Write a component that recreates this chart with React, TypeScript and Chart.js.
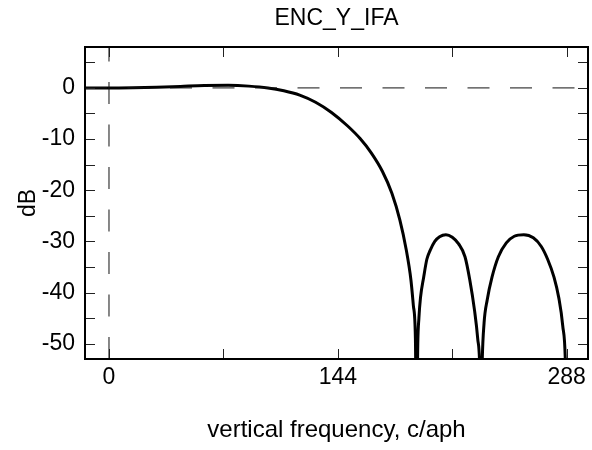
import React, { useEffect, useRef } from "react";
import { Chart, registerables } from "chart.js";

Chart.register(...registerables);

const FONT = '"Liberation Sans", Arial, Helvetica, sans-serif';

const chartTitle = "ENC_Y_IFA";
const xAxisTitle = "vertical frequency, c/aph";
const yAxisTitle = "dB";

const freq = [
  -15.1, 0, 15, 30, 45, 60, 75, 88, 100, 110, 120, 130, 140, 150, 158, 165, 172,
  178, 183, 187, 190, 191.5, 192.8, 193.5, 194.3, 195, 196, 198, 200, 202, 205,
  208, 212, 216, 220, 224, 227, 230, 232, 233.3, 234, 234.8, 236, 238, 241, 245,
  250, 255, 261, 267, 272, 276, 280, 283, 285.5, 287.2, 288,
];
const gainDb = [
  0.0, 0.0, 0.05, 0.15, 0.3, 0.45, 0.5, 0.35, 0.0, -0.55, -1.4, -2.8, -4.8, -7.4,
  -9.9, -12.7, -16.3, -20.6, -25.8, -31.6, -37.6, -42.5, -49, -70, -50, -45,
  -41, -37, -33.5, -31.8, -30.0, -29.1, -28.7, -29.2, -30.5, -33, -37.5, -43.5,
  -49, -55, -70, -54, -46, -41.4, -37, -33, -30.3, -29.0, -28.7, -29.3, -31,
  -33.5, -37, -41, -46.5, -54, -70,
];

const xMin = -15.1;
const xMax = 301.4;
const yMin = -53;
const yMax = 8;

const xTicks = [0, 72, 144, 216, 288];
const xLabels = [0, 144, 288];
const yTicks = [-50, -45, -40, -35, -30, -25, -20, -15, -10, -5, 0, 5];
const yLabels = [-50, -40, -30, -20, -10, 0];

const refLineH = [
  { x: xMin, y: 0 },
  { x: xMax, y: 0 },
];
const refLineV = [
  { x: 0, y: yMin },
  { x: 0, y: yMax },
];

const framePlugin = {
  id: "frame",
  afterDatasetsDraw(chart: any) {
    const { ctx, chartArea, scales } = chart;
    const { left, right, top, bottom } = chartArea;
    const x = scales.x;
    const y = scales.y;
    ctx.save();
    ctx.strokeStyle = "#222";
    ctx.lineWidth = 1;
    ctx.beginPath();
    for (const v of xTicks) {
      const px = Math.round(x.getPixelForValue(v)) + 0.5;
      ctx.moveTo(px, bottom);
      ctx.lineTo(px, bottom - 10);
      ctx.moveTo(px, top);
      ctx.lineTo(px, top + 10);
    }
    for (const v of yTicks) {
      const py = Math.round(y.getPixelForValue(v)) + 0.5;
      ctx.moveTo(left, py);
      ctx.lineTo(left + 10, py);
      ctx.moveTo(right, py);
      ctx.lineTo(right - 10, py);
    }
    ctx.stroke();
    ctx.lineWidth = 2;
    ctx.strokeStyle = "#000";
    ctx.strokeRect(left, top, right - left, bottom - top);
    // title centred over the plot area
    ctx.fillStyle = "#000";
    ctx.font = `23px ${FONT}`;
    ctx.textAlign = "center";
    ctx.textBaseline = "middle";
    ctx.fillText(chartTitle, (left + right) / 2, 19);
    ctx.restore();
  },
};

export default function App() {
  const ref = useRef<HTMLCanvasElement | null>(null);

  useEffect(() => {
    if (!ref.current) return;
    const chart = new Chart(ref.current, {
      type: "line",
      data: {
        datasets: [
          {
            data: refLineH,
            borderColor: "#111",
            borderWidth: 1,
            borderDash: [22, 20.5],
            pointRadius: 0,
            clip: 0,
          },
          {
            data: refLineV,
            borderColor: "#111",
            borderWidth: 1,
            borderDash: [22, 20.5],
            pointRadius: 0,
            clip: 0,
          },
          {
            data: freq.map((f, i) => ({ x: f, y: gainDb[i] })),
            borderColor: "#000",
            borderWidth: 3,
            pointRadius: 0,
            cubicInterpolationMode: "monotone",
            clip: 0,
          },
        ],
      },
      options: {
        animation: false,
        responsive: false,
        layout: { padding: { left: 0, right: 4, top: 47, bottom: 0 } },
        plugins: {
          legend: { display: false },
          tooltip: { enabled: false },
          title: { display: false },
        },
        scales: {
          x: {
            type: "linear",
            min: xMin,
            max: xMax,
            afterBuildTicks: (s: any) => {
              s.ticks = xTicks.map((v) => ({ value: v }));
            },
            afterFit: (s: any) => {
              s.height = 91;
            },
            grid: { display: false, drawTicks: false },
            border: { display: false },
            ticks: {
              autoSkip: false,
              maxRotation: 0,
              padding: 5,
              color: "#000",
              font: { family: FONT, size: 23 },
              callback: (v: any) => (xLabels.includes(Number(v)) ? String(v) : ""),
            },
            title: {
              display: true,
              text: xAxisTitle,
              color: "#000",
              font: { family: FONT, size: 24 },
              padding: { top: 0, bottom: 5 },
            },
          },
          y: {
            type: "linear",
            min: yMin,
            max: yMax,
            afterBuildTicks: (s: any) => {
              s.ticks = yTicks.map((v) => ({ value: v }));
            },
            afterFit: (s: any) => {
              s.width = 85;
            },
            grid: { display: false, drawTicks: false },
            border: { display: false },
            ticks: {
              autoSkip: false,
              padding: 10,
              color: "#000",
              font: { family: FONT, size: 23 },
              callback: (v: any) => (yLabels.includes(Number(v)) ? String(v) : ""),
            },
            title: {
              display: true,
              text: yAxisTitle,
              color: "#000",
              font: { family: FONT, size: 23 },
              padding: { top: 15, bottom: 0 },
            },
          },
        },
      },
      plugins: [framePlugin],
    } as any);
    return () => chart.destroy();
  }, []);

  return (
    <div style={{ position: "absolute", left: 0, top: 0, width: 592, height: 450, background: "#fff" }}>
      <canvas ref={ref} width={592} height={450} />
    </div>
  );
}
